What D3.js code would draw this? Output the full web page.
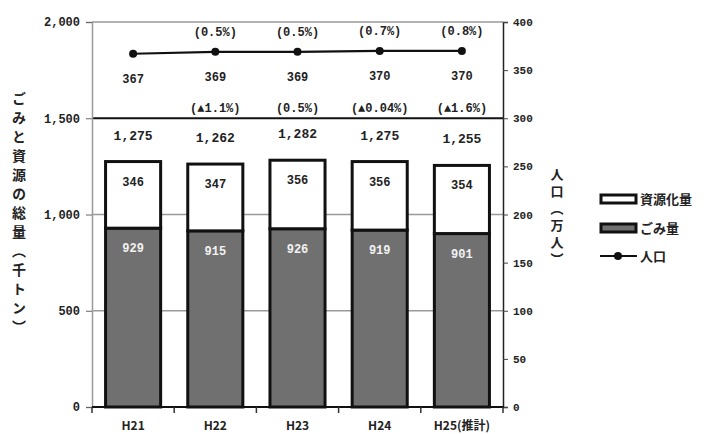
<!DOCTYPE html>
<html><head><meta charset="utf-8">
<script src="https://cdn.jsdelivr.net/npm/d3@7"></script>
<style>
body{margin:0;background:#fff;}
svg text{font-family:"Noto Sans CJK JP","Noto Sans",sans-serif;fill:#222;}
.num{font-family:"Liberation Mono","DejaVu Sans Mono",monospace;font-weight:bold;}
</style></head>
<body><svg id="c" width="718" height="434"></svg>
<script>
const categories = ["H21","H22","H23","H24","H25(推計)"];
const gomi = [929, 915, 926, 919, 901];
const shigen = [346, 347, 356, 356, 354];
const totals = [1275, 1262, 1282, 1275, 1255];
const totalChange = [null, "(▲1.1%)", "(0.5%)", "(▲0.04%)", "(▲1.6%)"];
const population = [367, 369, 369, 370, 370];
const popChange = [null, "(0.5%)", "(0.5%)", "(0.7%)", "(0.8%)"];
const leftTicks = [0, 500, 1000, 1500, 2000];
const rightTicks = [0, 50, 100, 150, 200, 250, 300, 350, 400];

const svg = d3.select("#c");
const L = 92, R = 503, T = 22, B = 407;
const x = d3.scaleBand().domain(categories).range([L, R]).paddingInner(0.33).paddingOuter(0.165);
const yL = d3.scaleLinear().domain([0, 2000]).range([B, T]);
const yR = d3.scaleLinear().domain([0, 400]).range([B, T]);
const fmt = d3.format(",");

// gridlines
svg.append("g").selectAll("line").data([500, 1000, 2000]).join("line")
  .attr("x1", L).attr("x2", R).attr("y1", d => yL(d)).attr("y2", d => yL(d))
  .attr("stroke", "#9a9a9a").attr("stroke-width", 1.5);
svg.append("line").attr("x1", L).attr("x2", R).attr("y1", yL(1500)).attr("y2", yL(1500))
  .attr("stroke", "#111").attr("stroke-width", 1.8);

// left axis
const gl = svg.append("g").attr("transform", `translate(${L},0)`)
  .call(d3.axisLeft(yL).tickValues(leftTicks).tickFormat(fmt).tickSize(6).tickPadding(6));
gl.select(".domain").attr("stroke", "#9a9a9a").attr("stroke-width", 1.5);
gl.selectAll(".tick line").attr("stroke", "#666");
gl.selectAll("text").attr("class", "num").style("font-size", "12px").attr("fill", "#222");

// right axis
const gr = svg.append("g").attr("transform", `translate(${R},0)`)
  .call(d3.axisRight(yR).tickValues(rightTicks).tickSize(5).tickPadding(5));
gr.select(".domain").attr("stroke", "#222").attr("stroke-width", 1.5);
gr.selectAll(".tick line").attr("stroke", "#444");
gr.selectAll("text").attr("class", "num").style("font-size", "11px").attr("fill", "#333");

// bars
const g = svg.append("g");
categories.forEach((c, i) => {
  const x0 = x(c), w = x.bandwidth();
  g.append("rect").attr("x", x0).attr("y", yL(gomi[i])).attr("width", w)
    .attr("height", yL(0) - yL(gomi[i])).attr("fill", "#707070")
    .attr("stroke", "#111").attr("stroke-width", 3);
  g.append("rect").attr("x", x0).attr("y", yL(gomi[i] + shigen[i])).attr("width", w)
    .attr("height", yL(gomi[i]) - yL(gomi[i] + shigen[i])).attr("fill", "#fff")
    .attr("stroke", "#111").attr("stroke-width", 3);
  const cx = x0 + w / 2;
  g.append("text").attr("class", "num").attr("x", cx).attr("y", yL(gomi[i] + shigen[i]) + 24)
    .attr("text-anchor", "middle").style("font-size", "12px").text(shigen[i]);
  g.append("text").attr("class", "num").attr("x", cx).attr("y", yL(gomi[i]) + 24)
    .attr("text-anchor", "middle").style("font-size", "12px").style("fill", "#f2f2f2").text(gomi[i]);
  g.append("text").attr("class", "num").attr("x", cx).attr("y", yL(gomi[i] + shigen[i]) - 22)
    .attr("text-anchor", "middle").style("font-size", "13px").text(fmt(totals[i]));
  if (totalChange[i]) g.append("text").attr("class", "num").attr("x", cx).attr("y", yL(1500) - 6)
    .attr("text-anchor", "middle").style("font-size", "12px").text(totalChange[i]);
});

// x axis
svg.append("line").attr("x1", L).attr("x2", R + 1).attr("y1", B).attr("y2", B)
  .attr("stroke", "#111").attr("stroke-width", 2);
const step = x.step();
d3.range(categories.length + 1).forEach(k => {
  const xx = L + k * step;
  svg.append("line").attr("x1", xx).attr("x2", xx).attr("y1", B).attr("y2", B + 6)
    .attr("stroke", "#333").attr("stroke-width", 1.5);
});
svg.append("g").selectAll("text").data(categories).join("text")
  .attr("x", d => x(d) + x.bandwidth() / 2).attr("y", 430)
  .attr("text-anchor", "middle").style("font-size", "12px").style("font-weight", "bold").text(d => d);

// population line
const line = d3.line().x((d, i) => x(categories[i]) + x.bandwidth() / 2).y(d => yR(d));
svg.append("path").datum(population).attr("d", line).attr("fill", "none")
  .attr("stroke", "#111").attr("stroke-width", 2.2);
population.forEach((p, i) => {
  const cx = x(categories[i]) + x.bandwidth() / 2;
  svg.append("circle").attr("cx", cx).attr("cy", yR(p)).attr("r", 4).attr("fill", "#111");
  svg.append("text").attr("class", "num").attr("x", cx).attr("y", yR(p) + 29)
    .attr("text-anchor", "middle").style("font-size", "12px").text(p);
  if (popChange[i]) svg.append("text").attr("class", "num").attr("x", cx).attr("y", yR(p) - 16)
    .attr("text-anchor", "middle").style("font-size", "12px").text(popChange[i]);
});

// axis titles (vertical writing)
svg.append("text").attr("x", 19).attr("y", 92)
  .attr("writing-mode", "vertical-rl").style("font-size", "14px").style("font-weight", "bold")
  .style("letter-spacing", "5px").text("ごみと資源の総量（千トン）");
svg.append("text").attr("x", 557).attr("y", 168)
  .attr("writing-mode", "vertical-rl").style("font-size", "13px").style("font-weight", "bold")
  .style("letter-spacing", "4px").text("人口（万人）");

// legend
const lg = svg.append("g");
const items = [["資源化量", "#fff"], ["ごみ量", "#707070"]];
items.forEach((it, i) => {
  const yy = 199 + i * 29;
  lg.append("rect").attr("x", 601).attr("y", yy - 4).attr("width", 35).attr("height", 8)
    .attr("fill", it[1]).attr("stroke", "#111").attr("stroke-width", 3);
  lg.append("text").attr("x", 640).attr("y", yy + 5).style("font-size", "13px")
    .style("font-weight", "bold").text(it[0]);
});
lg.append("line").attr("x1", 600).attr("x2", 637).attr("y1", 256).attr("y2", 256)
  .attr("stroke", "#111").attr("stroke-width", 2.2);
lg.append("circle").attr("cx", 618).attr("cy", 256).attr("r", 4).attr("fill", "#111");
lg.append("text").attr("x", 640).attr("y", 261).style("font-size", "13px")
  .style("font-weight", "bold").text("人口");
</script></body></html>
